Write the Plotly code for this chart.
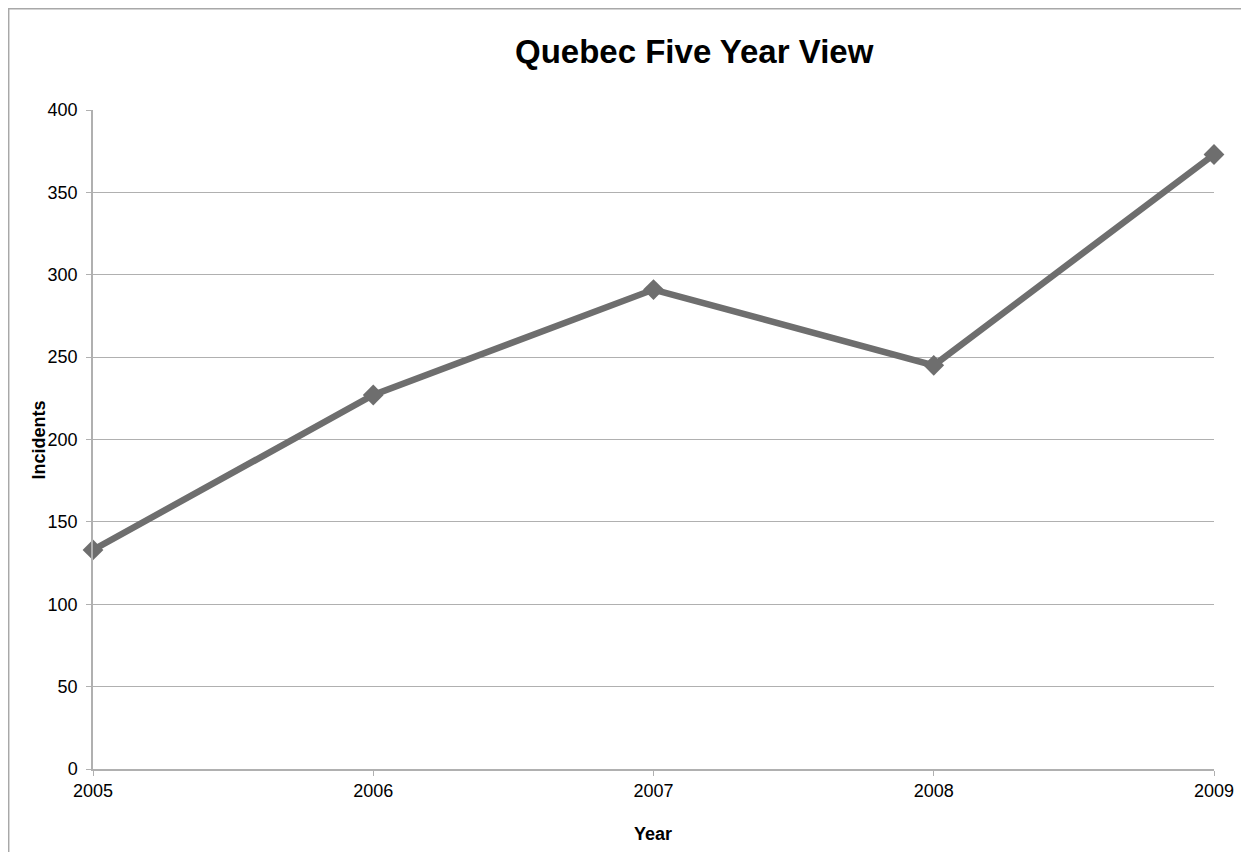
import plotly.graph_objects as go

years = [2005, 2006, 2007, 2008, 2009]
incidents = [133, 227, 291, 245, 373]
y_ticks = [0, 50, 100, 150, 200, 250, 300, 350, 400]

# page body has an 8px margin; figure is sized/positioned to compensate
PX0, PY0 = 93, 110      # plot-area left/top in the viewport
PW, PH = 1121, 659      # plot-area size


def px(x):
    return (x - PX0) / PW


def py(y):
    return (PY0 + PH - y) / PH


fig = go.Figure()
fig.add_trace(go.Scatter(
    x=years, y=incidents, mode="lines+markers",
    line=dict(color="#6e6e6e", width=6.5),
    marker=dict(symbol="diamond", size=16, color="#6e6e6e"),
    cliponaxis=False, showlegend=False,
))

axis_color = "#b0b0b0"
fig.update_layout(
    width=1241, height=844,
    paper_bgcolor="white", plot_bgcolor="white",
    margin=dict(l=85, r=35, t=102, b=83),
    font=dict(family="Liberation Sans, Arial, sans-serif", size=18, color="black"),
    xaxis=dict(range=[2005, 2009], tickvals=years, ticktext=[str(y) for y in years],
               showgrid=False, zeroline=False, showline=True, linecolor=axis_color,
               linewidth=1.5, ticks="outside", ticklen=5, tickcolor=axis_color,
               tickfont=dict(size=18)),
    yaxis=dict(range=[0, 400], tickvals=y_ticks, showgrid=True, gridcolor=axis_color,
               gridwidth=1, zeroline=False, showline=True, linecolor=axis_color,
               linewidth=1.5, ticks="outside", ticklen=5, tickcolor=axis_color,
               ticklabelstandoff=5, tickfont=dict(size=18)),
)

fig.add_annotation(text="<b>Quebec Five Year View</b>", xref="paper", yref="paper",
                   x=px(694), y=py(51), xanchor="center", yanchor="middle",
                   showarrow=False, font=dict(size=33))
fig.add_annotation(text="<b>Year</b>", xref="paper", yref="paper", x=px(653),
                   y=py(834), yanchor="middle", showarrow=False, font=dict(size=18))
fig.add_annotation(text="<b>Incidents</b>", xref="paper", yref="paper", x=px(38.5),
                   xanchor="center", y=py(440), yanchor="middle", textangle=-90,
                   showarrow=False, font=dict(size=18))

fig.add_shape(type="rect", xref="paper", yref="paper",
              x0=px(8.7), x1=px(1260),
              y0=py(900), y1=py(8.7),
              line=dict(color="#a8a8a8", width=1.5), layer="below")

fig.write_html("out.html")
